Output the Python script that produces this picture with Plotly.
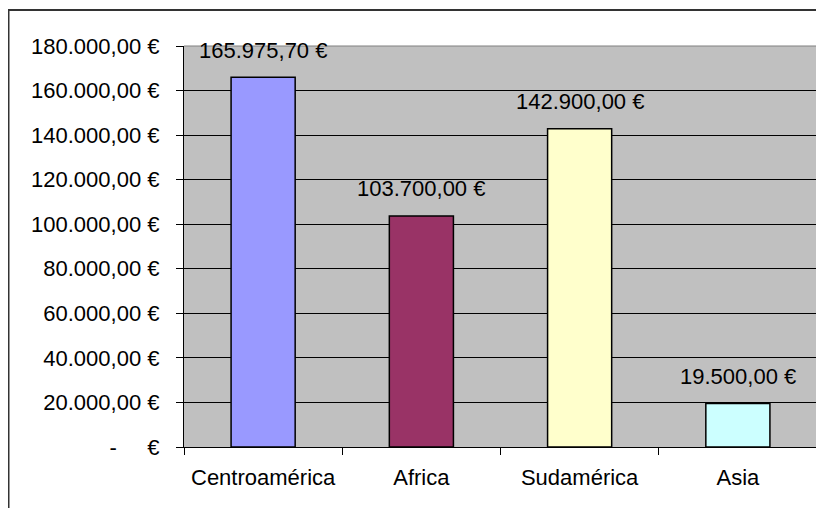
import plotly.graph_objects as go

categories = ["Centroamérica", "Africa", "Sudamérica", "Asia"]
values = [165975.70, 103700.00, 142900.00, 19500.00]
bar_colors = ["#9999FF", "#993366", "#FFFFCC", "#CCFFFF"]
y_ticks = [0, 20000, 40000, 60000, 80000, 100000, 120000, 140000, 160000, 180000]


def eur(v):
    s = f"{v:,.2f}"
    s = s.replace(",", "X").replace(".", ",").replace("X", ".")
    return s + " €"


y_ticktext = ["-" + "\u00a0" * 5 + "€" if v == 0 else eur(v) for v in y_ticks]

FONT = "Liberation Sans, Arial, sans-serif"
FS = 22

fig = go.Figure()
fig.add_trace(go.Bar(
    x=categories, y=values,
    marker=dict(color=bar_colors, line=dict(color="black", width=1.5)),
    width=0.405,
    hoverinfo="skip",
))

for c, v in zip(categories, values):
    fig.add_annotation(x=c, y=v, text=eur(v), showarrow=False,
                       yanchor="middle", yshift=27,
                       font=dict(family=FONT, size=FS, color="black"))

W, H = 816, 500
L, R, T, B = 176, 7, 38, 61
pw, ph = W - L - R, H - T - B

# outer chart border (extends beyond visible window on right/bottom)
fig.add_shape(type="rect", xref="paper", yref="paper",
              x0=(0.5 - L) / pw, x1=(W + 20 - L) / pw,
              y0=-(B + 20) / ph, y1=1 + (T - 2) / ph,
              line=dict(color="#333333", width=2), layer="below")

# plot area border top & right (gray)
fig.add_shape(type="path", xref="paper", yref="paper",
              path="M 0 1 L 1 1 L 1 0",
              line=dict(color="#808080", width=1.2), layer="above")

fig.update_layout(
    width=W, height=H,
    margin=dict(l=L, r=R, t=T, b=B, pad=0),
    paper_bgcolor="white",
    plot_bgcolor="#C0C0C0",
    showlegend=False,
    font=dict(family=FONT, size=FS, color="black"),
)

fig.update_xaxes(
    type="category",
    tickson="boundaries",
    ticks="outside", ticklen=7, tickcolor="black", tickwidth=1,
    showline=True, linecolor="black", linewidth=1.2,
    showgrid=False,
    tickfont=dict(family=FONT, size=FS, color="black"),
    ticklabelstandoff=10,
    range=[-0.5, 3.5],
)

fig.update_yaxes(
    range=[0, 180000],
    tickvals=y_ticks, ticktext=y_ticktext,
    ticks="outside", ticklen=7, tickcolor="black", tickwidth=1,
    showline=True, linecolor="black", linewidth=1.2,
    showgrid=True, gridcolor="black", gridwidth=1,
    zeroline=False,
    tickfont=dict(family=FONT, size=FS, color="black"),
    ticklabelstandoff=12,
)

fig.write_html("out.html")
